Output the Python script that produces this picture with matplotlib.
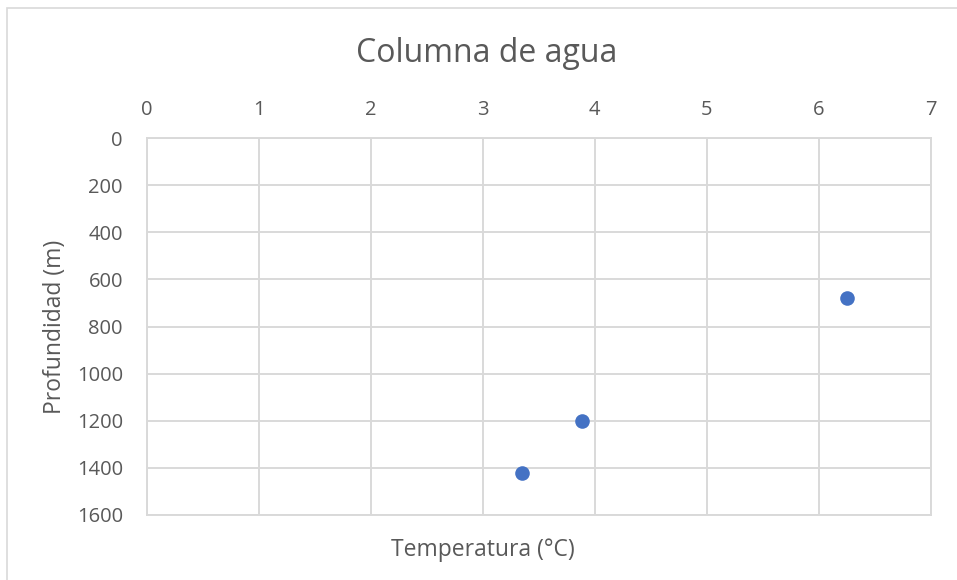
import matplotlib.pyplot as plt
from matplotlib.patches import Rectangle

# temperature (°C) vs depth (m)
temperatura = [6.25, 3.89, 3.35]
profundidad = [680, 1200, 1420]

x_ticks = [0, 1, 2, 3, 4, 5, 6, 7]
y_ticks = [0, 200, 400, 600, 800, 1000, 1200, 1400, 1600]

TEXT = '#595959'
GRID = '#D9D9D9'
BLUE = '#4472C4'

W, H = 957, 580
plt.rcParams['font.family'] = ['Open Sans', 'DejaVu Sans']

fig = plt.figure(figsize=(W / 100, H / 100), dpi=100)
ax = fig.add_axes([146.5 / W, 1 - 515 / H, (931 - 146.5) / W, (515 - 138) / H])

ax.plot(temperatura, profundidad, 'o', color=BLUE, markersize=10.5,
        markeredgewidth=0, zorder=3)

ax.set_xlim(0, 7)
ax.set_ylim(1600, 0)
ax.set_xticks(x_ticks)
ax.set_yticks(y_ticks)
ax.xaxis.tick_top()
ax.tick_params(length=0, labelsize=14.5, colors=TEXT, pad=13)
ax.tick_params(axis='y', pad=17)
ax.grid(True, color=GRID, linewidth=1.4)
ax.set_axisbelow(True)
for s in ax.spines.values():
    s.set_color(GRID)
    s.set_linewidth(1.4)

fig.text(487 / W, 1 - 53 / H, 'Columna de agua', ha='center', va='center',
         fontsize=23, color=TEXT)
fig.text(483 / W, 1 - 550 / H, 'Temperatura (°C)', ha='center', va='center',
         fontsize=16.5, color=TEXT)
fig.text(55 / W, 1 - 327 / H, 'Profundidad (m)', ha='center', va='center',
         rotation=90, fontsize=16.5, color=TEXT)

# chart frame
fig.patches.append(Rectangle((7 / W, -0.1), 1.2, 1 - 8 / H + 0.1,
                             transform=fig.transFigure, fill=False,
                             edgecolor=GRID, linewidth=1.2))

fig.savefig('out.png', dpi=100, facecolor='white')
